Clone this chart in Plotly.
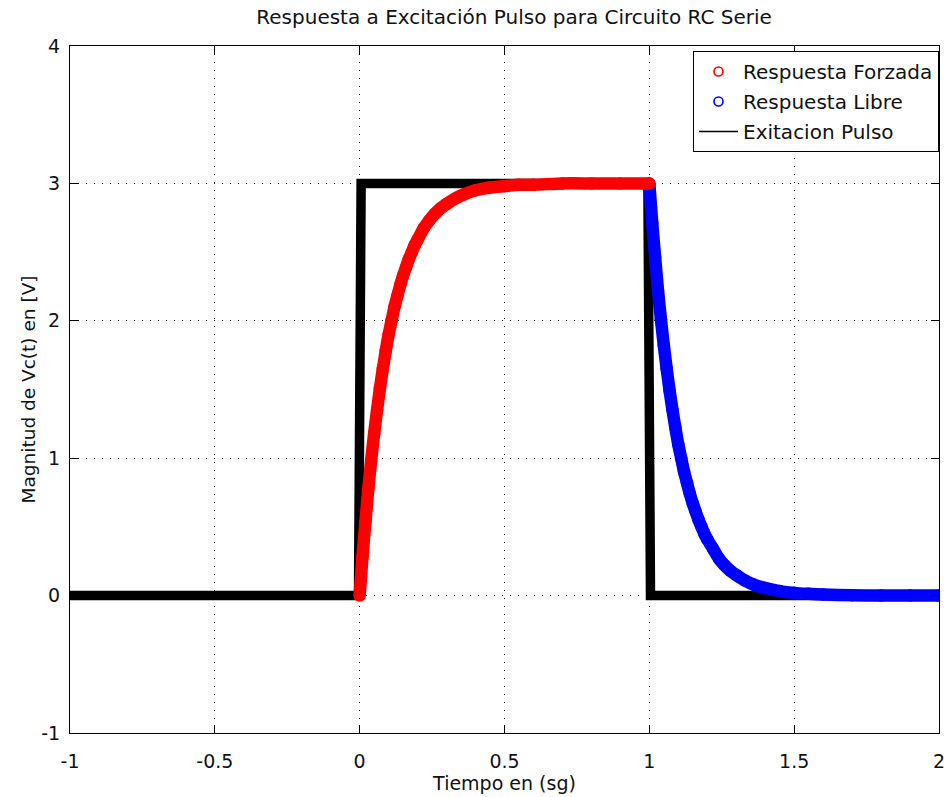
import plotly.graph_objects as go

# ---- data ----
pulse_t = [-1.0, -0.004, 0.005, 0.995, 1.004, 2.0]
pulse_v = [0, 0, 3, 3, 0, 0]

red_t = [0.0, 0.01, 0.02, 0.03, 0.04, 0.05, 0.06, 0.07, 0.08, 0.09, 0.10, 0.11, 0.12,
         0.13, 0.14, 0.15, 0.16, 0.17, 0.18, 0.19, 0.20, 0.22, 0.24, 0.26, 0.28,
         0.30, 0.33, 0.36, 0.40, 0.45, 0.50, 0.55, 0.60, 0.70, 0.80, 0.90, 1.0]
red_v = [0.0, 0.29, 0.54, 0.78, 0.99, 1.18, 1.35, 1.51, 1.65, 1.78, 1.90, 2.00, 2.10,
         2.18, 2.26, 2.33, 2.39, 2.45, 2.50, 2.55, 2.59, 2.67, 2.73, 2.78, 2.82,
         2.85, 2.89, 2.92, 2.95, 2.97, 2.98, 2.99, 2.99, 3.0, 3.0, 3.0, 3.0]

blue_t = [1.0, 1.01, 1.02, 1.03, 1.04, 1.05, 1.06, 1.07, 1.08, 1.09, 1.10, 1.11, 1.12,
          1.13, 1.14, 1.15, 1.16, 1.17, 1.18, 1.19, 1.20, 1.22, 1.24, 1.26, 1.28,
          1.30, 1.33, 1.36, 1.40, 1.45, 1.50, 1.55, 1.60, 1.70, 1.80, 1.90, 2.0]
blue_v = [3.0, 2.71, 2.46, 2.22, 2.01, 1.82, 1.65, 1.49, 1.35, 1.22, 1.10, 1.00, 0.90,
          0.82, 0.74, 0.67, 0.61, 0.55, 0.50, 0.45, 0.41, 0.34, 0.27, 0.22, 0.18,
          0.15, 0.11, 0.08, 0.055, 0.033, 0.02, 0.013, 0.008, 0.003, 0.0, 0.0, 0.0]

x_ticks = [-1, -0.5, 0, 0.5, 1, 1.5, 2]
x_labels = ["-1", "-0.5", "0", "0.5", "1", "1.5", "2"]
y_ticks = [-1, 0, 1, 2, 3, 4]
y_labels = ["-1", "0", "1", "2", "3", "4"]

names = ["Respuesta Forzada", "Respuesta Libre", "Exitacion Pulso"]

FONT = "DejaVu Sans"
FS = 19
TXT = "#111"

fig = go.Figure()

# legend-only entries (in legend order)
fig.add_trace(go.Scatter(x=[None], y=[None], mode="markers", name=names[0],
                         legendgroup="a",
                         marker=dict(symbol="circle-open", size=9, color="#ff0000",
                                     line=dict(width=1.6, color="#ff0000"))))
fig.add_trace(go.Scatter(x=[None], y=[None], mode="markers", name=names[1],
                         legendgroup="b",
                         marker=dict(symbol="circle-open", size=9, color="#0000ff",
                                     line=dict(width=1.6, color="#0000ff"))))
fig.add_trace(go.Scatter(x=[None], y=[None], mode="lines", name=names[2],
                         legendgroup="c",
                         line=dict(color="black", width=1.5)))

# drawn data
fig.add_trace(go.Scatter(x=pulse_t, y=pulse_v, mode="lines", showlegend=False,
                         line=dict(color="black", width=9.5)))
fig.add_trace(go.Scatter(x=blue_t, y=blue_v, mode="lines+markers", showlegend=False,
                         line=dict(color="#0000ff", width=12.5, shape="spline",
                                   smoothing=0.6),
                         marker=dict(color="#0000ff", size=12.5)))
fig.add_trace(go.Scatter(x=red_t, y=red_v, mode="lines+markers", showlegend=False,
                         line=dict(color="#ff0000", width=12.5, shape="spline",
                                   smoothing=0.6),
                         marker=dict(color="#ff0000", size=12.5)))

axis_common = dict(
    showgrid=True, gridcolor="black", gridwidth=1, griddash="1px,7px",
    zeroline=False, showline=True, linecolor="black", linewidth=1,
    mirror="ticks", ticks="inside", ticklen=8, tickwidth=1, tickcolor="black",
    tickfont=dict(family=FONT, size=FS, color=TXT), automargin=False,
)

fig.update_layout(
    width=951, height=797,
    margin=dict(l=70, r=12, t=46, b=64),
    paper_bgcolor="white", plot_bgcolor="white",
    font=dict(family=FONT, size=FS, color=TXT),
    title=dict(text="Respuesta a Excitación Pulso para Circuito RC Serie",
               x=0.511, xref="paper", xanchor="center",
               y=1 - 17 / 797, yref="container", yanchor="middle",
               font=dict(family=FONT, size=20, color=TXT)),
    xaxis=dict(range=[-1, 2], tickvals=x_ticks, ticktext=x_labels,
               ticklabelstandoff=11,
               title=dict(text="Tiempo en (sg)", standoff=4,
                          font=dict(family=FONT, size=FS, color=TXT)),
               **axis_common),
    yaxis=dict(range=[-1, 4], tickvals=y_ticks, ticktext=y_labels,
               ticklabelstandoff=5,
               title=dict(text="Magnitud de Vc(t) en [V]", standoff=0,
                          font=dict(family=FONT, size=18.5, color=TXT)),
               **axis_common),
    legend=dict(x=1, xanchor="right", y=0.9927, yanchor="top",
                bgcolor="white", bordercolor="black", borderwidth=1,
                font=dict(family=FONT, size=20, color=TXT),
                itemwidth=39,
                tracegroupgap=1, traceorder="grouped"),
)

fig.write_html("out.html")
